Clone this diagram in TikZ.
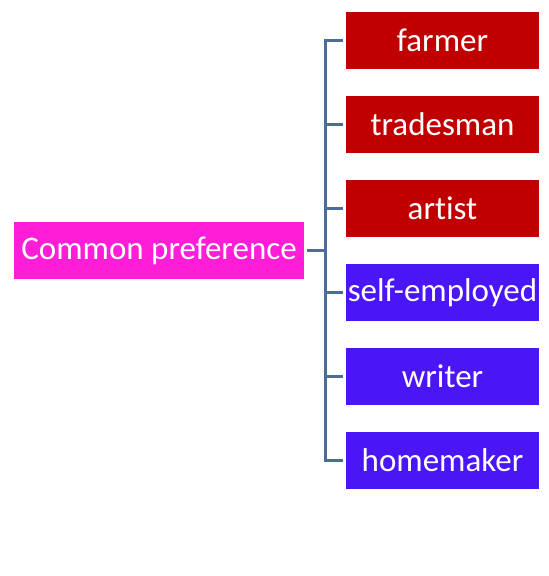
\documentclass[tikz,border=0pt]{standalone}
\usepackage{fontspec}
\setmainfont{Carlito}[Ligatures=NoCommon]
\usetikzlibrary{positioning}
\definecolor{rootfill}{HTML}{FF1DD8}
\definecolor{redfill}{HTML}{C00000}
\definecolor{bluefill}{HTML}{4B16F5}
\definecolor{linkline}{HTML}{4A6E98}
\tikzset{
  every node/.style={font=\fontsize{33}{36}\selectfont, text=white},
  box/.style={rectangle, inner sep=0pt, minimum height=57pt, align=center},
  rootbox/.style={box, fill=rootfill, minimum width=290pt},
  redbox/.style={box, fill=redfill, minimum width=193pt},
  bluebox/.style={box, fill=bluefill, minimum width=193pt},
  link/.style={draw=linkline, line width=2.8pt, shorten <=3pt, shorten >=3pt},
}
\begin{document}
\begin{tikzpicture}[x=1pt,y=-1pt]
\useasboundingbox (0,0) rectangle (549,576);

% ---- Root ----------------------------------------------------------------
\node[rootbox] (root) at (159,250.5) {Common preference};

% ---- Occupations -----------------------------------------------------------
\node[redbox] (farmer) at (442.5,40.5) {farmer};
\node[redbox] (tradesman) at (442.5,124.5) {tradesman};
\node[redbox] (artist) at (442.5,208.5) {artist};
\node[bluebox] (selfemp) at (442.5,292.5) {self-employed};
\node[bluebox] (writer) at (442.5,376.5) {writer};
\node[bluebox] (homemaker) at (442.5,460.5) {homemaker};

\foreach \n in {farmer,tradesman,artist,selfemp,writer,homemaker}
  \draw[link] (root.east) -- ++(21,0) |- (\n.west);

\end{tikzpicture}
\end{document}
